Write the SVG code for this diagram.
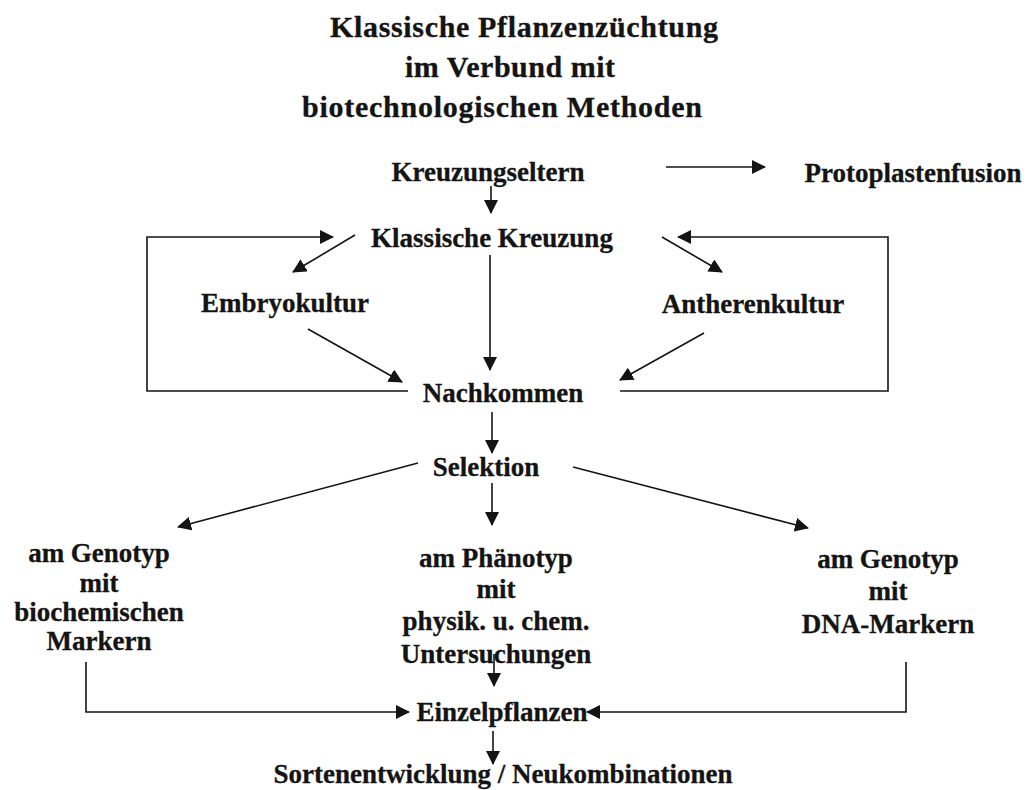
<svg xmlns="http://www.w3.org/2000/svg" width="1028" height="790" viewBox="0 0 1028 790">
<defs>
<style>
text{font-family:"Liberation Serif","Times New Roman",serif;font-weight:bold;fill:#141414;stroke:#141414;stroke-width:0.3}
.t{font-size:30px}
.l{font-size:27px;text-anchor:middle}
.c{fill:none;stroke:#141414;stroke-width:1.6}
</style>
<marker id="ah" viewBox="0 0 14 14" refX="13" refY="7" markerWidth="14" markerHeight="14" markerUnits="userSpaceOnUse" orient="auto">
<path d="M0,0 L14,7 L0,14 Z" fill="#141414"/>
</marker>
</defs>
<rect width="1028" height="790" fill="#fff"/>
<g id="title">
<text class="t" x="330" y="37" textLength="388">Klassische Pflanzenzüchtung</text>
<text class="t" x="405" y="77" textLength="210">im Verbund mit</text>
<text class="t" x="302" y="117" textLength="400">biotechnologischen Methoden</text>
</g>
<g id="connectors">
<line class="c" x1="491" y1="186" x2="491" y2="213" marker-end="url(#ah)"/>
<line class="c" x1="666" y1="167" x2="765" y2="167" marker-end="url(#ah)"/>
<line class="c" x1="355" y1="235" x2="293" y2="272" marker-end="url(#ah)"/>
<line class="c" x1="662" y1="237" x2="722" y2="272" marker-end="url(#ah)"/>
<line class="c" x1="490" y1="255" x2="490" y2="370" marker-end="url(#ah)"/>
<line class="c" x1="308" y1="329" x2="402" y2="382" marker-end="url(#ah)"/>
<line class="c" x1="704" y1="333" x2="620" y2="380" marker-end="url(#ah)"/>
<polyline class="c" points="408,391 147,391 147,237 333,237" marker-end="url(#ah)"/>
<polyline class="c" points="620,391 888,391 888,237 678,237" marker-end="url(#ah)"/>
<line class="c" x1="492" y1="412" x2="492" y2="453" marker-end="url(#ah)"/>
<line class="c" x1="418" y1="463" x2="178" y2="527" marker-end="url(#ah)"/>
<line class="c" x1="492" y1="483" x2="492" y2="525" marker-end="url(#ah)"/>
<line class="c" x1="573" y1="467" x2="808" y2="528" marker-end="url(#ah)"/>
<line class="c" x1="494" y1="654" x2="494" y2="686" marker-end="url(#ah)"/>
<polyline class="c" points="86,662 86,712 409,712" marker-end="url(#ah)"/>
<polyline class="c" points="906,662 906,712 587,712" marker-end="url(#ah)"/>
<line class="c" x1="493" y1="731" x2="493" y2="764" marker-end="url(#ah)"/>
</g>
<g id="kreuzungseltern"><text class="l" x="488" y="181">Kreuzungseltern</text></g>
<g id="protoplastenfusion"><text class="l" x="913" y="182">Protoplastenfusion</text></g>
<g id="klassische-kreuzung"><text class="l" x="492" y="247">Klassische Kreuzung</text></g>
<g id="embryokultur"><text class="l" x="285" y="312">Embryokultur</text></g>
<g id="antherenkultur"><text class="l" x="753" y="313">Antherenkultur</text></g>
<g id="nachkommen"><text class="l" x="503" y="402">Nachkommen</text></g>
<g id="selektion"><text class="l" x="486" y="476">Selektion</text></g>
<g id="genotyp-biochem">
<text class="l" x="99" y="562">am Genotyp</text>
<text class="l" x="99" y="592">mit</text>
<text class="l" x="99" y="621">biochemischen</text>
<text class="l" x="99" y="650">Markern</text>
</g>
<g id="phaenotyp">
<text class="l" x="496" y="567">am Phänotyp</text>
<text class="l" x="496" y="598">mit</text>
<text class="l" x="496" y="630">physik. u. chem.</text>
<text class="l" x="496" y="663">Untersuchungen</text>
</g>
<g id="genotyp-dna">
<text class="l" x="888" y="568">am Genotyp</text>
<text class="l" x="888" y="600">mit</text>
<text class="l" x="888" y="633">DNA-Markern</text>
</g>
<g id="einzelpflanzen"><text class="l" x="502" y="721">Einzelpflanzen</text></g>
<g id="sortenentwicklung"><text class="l" x="503" y="783">Sortenentwicklung / Neukombinationen</text></g>
</svg>
